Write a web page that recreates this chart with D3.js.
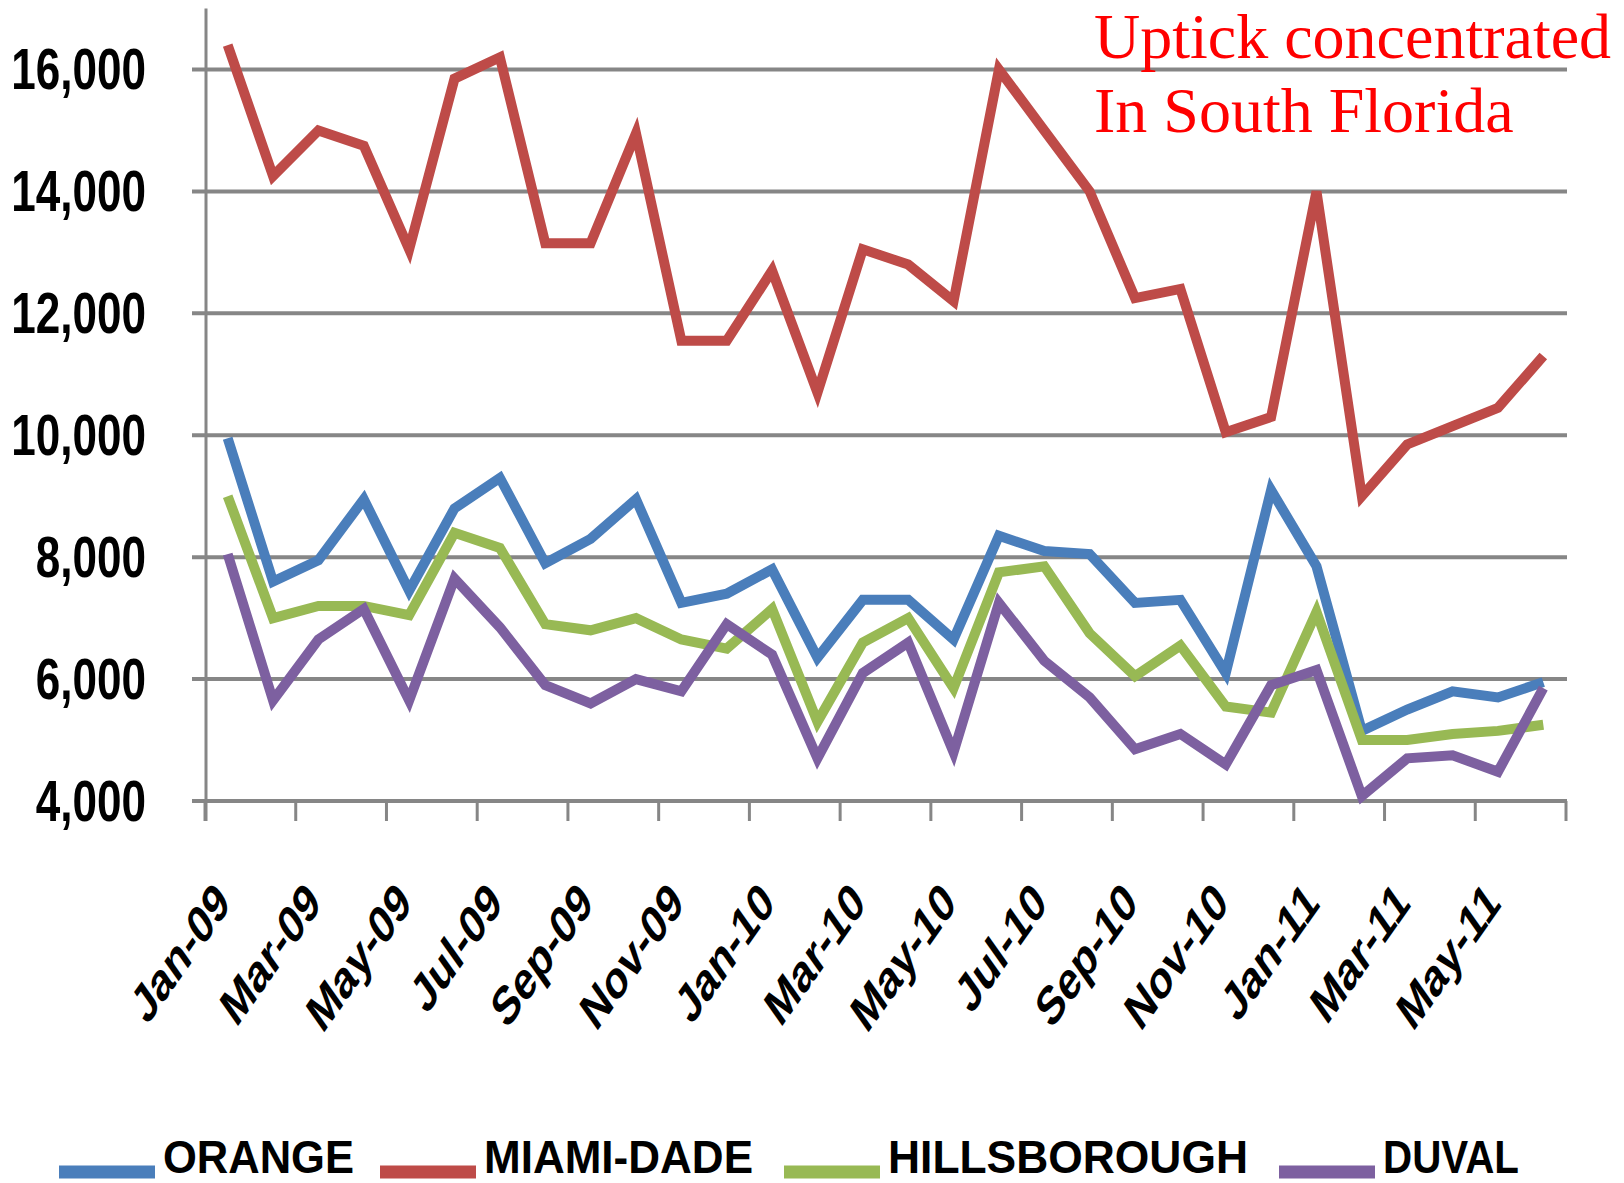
<!DOCTYPE html>
<html>
<head>
<meta charset="utf-8">
<style>
    body { margin: 0; background: #fff; }
    svg { display: block; }
    .ylab, .xlab, .leg { font-family: Arial, 'Liberation Sans', sans-serif; font-weight: bold; fill: #000; }
    .note { font-family: 'Times New Roman', 'Liberation Serif', serif; fill: #ff0000; font-size: 64px; }
</style>
</head>
<body>
<svg width="1624" height="1183"></svg>
<script src="https://d3js.org/d3.v7.min.js"></script>
<script>
    // months shown on the x axis
    let months = ["Jan-09","Feb-09","Mar-09","Apr-09","May-09","Jun-09","Jul-09","Aug-09","Sep-09","Oct-09","Nov-09","Dec-09",
        "Jan-10","Feb-10","Mar-10","Apr-10","May-10","Jun-10","Jul-10","Aug-10","Sep-10","Oct-10","Nov-10","Dec-10",
        "Jan-11","Feb-11","Mar-11","Apr-11","May-11","Jun-11"]

    let countyNames = ["ORANGE", "MIAMI-DADE", "HILLSBOROUGH", "DUVAL"]

    let orange = [9950,7600,7950,8950,7450,8800,9300,7900,8300,8950,7250,7400,7800,6350,7300,7300,6650,8350,8100,8050,7250,7300,6100,9100,7850,5150,5500,5800,5700,5950]
    let miamiDade = [16400,14250,15000,14750,13050,15850,16200,13150,13150,14950,11550,11550,12700,10700,13050,12800,12200,16000,15000,14000,12250,12400,10050,10300,14000,9000,9850,10150,10450,11300]
    let hillsborough = [9000,7000,7200,7200,7050,8400,8150,6900,6800,7000,6650,6500,7150,5300,6600,7000,5850,7750,7850,6750,6050,6550,5550,5450,7100,5000,5000,5100,5150,5250]
    let duval = [8050,5650,6650,7150,5650,7650,6850,5900,5600,6000,5800,6900,6400,4700,6100,6600,4800,7250,6300,5700,4850,5100,4600,5900,6150,4080,4700,4750,4480,5850]

    let yTicks = [4000, 6000, 8000, 10000, 12000, 14000, 16000]
    let colors = ["#4a7ebb", "#be4b48", "#98b954", "#7d60a0"]

    let series = [orange, miamiDade, hillsborough, duval]

    let svg = d3.select("svg")
    svg.append("rect").attr("width", 1624).attr("height", 1183).attr("fill", "#fff")

    let plotLeft = 205, plotRight = 1566, plotTop = 8.5, plotBottom = 801

    let x = d3.scaleBand()
        .domain(months)
        .range([plotLeft, plotRight])
        .padding(0)

    let y = d3.scaleLinear()
        .domain([4000, 17000])
        .range([plotBottom, plotTop])

    let cx = m => x(m) + x.bandwidth() / 2

    // gridlines (they stick out a bit to the left like tick marks)
    svg.append("g")
        .selectAll("line")
        .data(yTicks)
        .join("line")
        .attr("x1", plotLeft - 13)
        .attr("x2", plotRight + 1)
        .attr("y1", d => y(d))
        .attr("y2", d => y(d))
        .style("stroke", "#868686")
        .style("stroke-width", 4)

    // y axis line
    svg.append("line")
        .attr("x1", plotLeft + 1).attr("x2", plotLeft + 1)
        .attr("y1", plotTop).attr("y2", plotBottom + 20)
        .style("stroke", "#868686")
        .style("stroke-width", 3)

    // x tick marks every two months
    let tickPos = months.filter((m, i) => i % 2 == 0).map(m => x(m)).concat([plotRight])
    svg.append("g")
        .selectAll("line")
        .data(tickPos)
        .join("line")
        .attr("x1", d => d).attr("x2", d => d)
        .attr("y1", plotBottom).attr("y2", plotBottom + 20)
        .style("stroke", "#868686")
        .style("stroke-width", 3)

    // y labels
    svg.append("g")
        .selectAll("text")
        .data(yTicks)
        .join("text")
        .attr("class", "ylab")
        .attr("transform", d => `translate(146,${y(d) + 20}) scale(0.76,1)`)
        .attr("text-anchor", "end")
        .style("font-size", "58px")
        .text(d => d3.format(",")(d))

    // x labels, rotated and stretched
    svg.append("g")
        .selectAll("text")
        .data(months.filter((m, i) => i % 2 == 0))
        .join("text")
        .attr("class", "xlab")
        .attr("transform", d => `translate(${cx(d) - 15},878) scale(1,1.42) rotate(-45)`)
        .attr("text-anchor", "end")
        .attr("dy", "0.72em")
        .style("font-size", "38px")
        .text(d => d)

    let line = d3.line()
        .x((d, i) => cx(months[i]))
        .y(d => y(d))

    svg.append("g")
        .selectAll("path")
        .data(series)
        .join("path")
        .attr("d", d => line(d))
        .style("fill", "none")
        .style("stroke", (d, i) => colors[i])
        .style("stroke-width", 10)
        .style("stroke-linejoin", "miter")

    // legend at the bottom edge
    let legX = [59, 380, 784, 1279]
    let legW = [191, 269, 360, 136]
    let leg = svg.append("g")
        .selectAll("g")
        .data(countyNames)
        .join("g")
        .attr("transform", (d, i) => `translate(${legX[i]},0)`)

    leg.append("line")
        .attr("x1", 0).attr("x2", 96)
        .attr("y1", 1172).attr("y2", 1172)
        .style("stroke", (d, i) => colors[i])
        .style("stroke-width", 13)

    leg.append("text")
        .attr("class", "leg")
        .attr("x", 104)
        .attr("y", 1173)
        .attr("textLength", (d, i) => legW[i])
        .attr("lengthAdjust", "spacingAndGlyphs")
        .style("font-size", "46px")
        .text(d => d)

    // annotation
    svg.append("text").attr("class", "note").attr("x", 1094).attr("y", 58).text("Uptick concentrated")
    svg.append("text").attr("class", "note").attr("x", 1094).attr("y", 132).text("In South Florida")
</script>
</body>
</html>
